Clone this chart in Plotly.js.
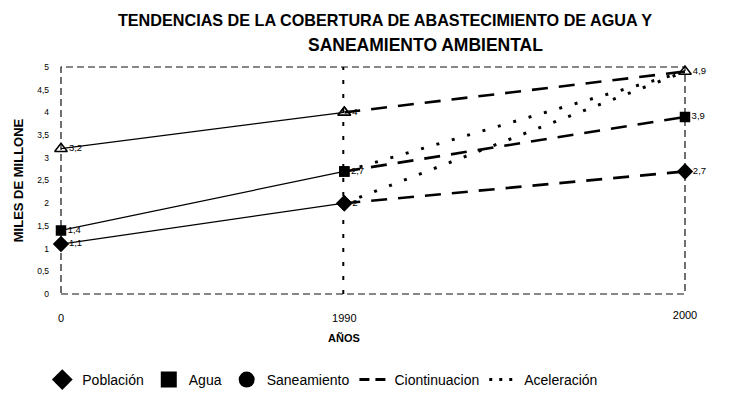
<!DOCTYPE html>
<html>
<head>
<meta charset="utf-8">
<script src="https://cdn.plot.ly/plotly-3.0.1.min.js"></script>
<style>html,body{margin:0;padding:0;background:#fff;}#chart{width:730px;height:407px;}</style>
</head>
<body>
<div id="chart"></div>
<script>
// ---- data ----
const years = [0, 1990, 2000];
const xTickLabels = ["0", "1990", "2000"];
const poblacion = [1.1, 2, 2.7];      // diamonds (bottom series)
const agua = [1.4, 2.7, 3.9];         // squares (middle series)
const saneamiento = [3.2, 4, 4.9];    // open triangles (top series)
const aceleracionAgua = [2.7, 4.9];        // 1990 -> 2000
const aceleracionPoblacion = [2, 4.9];     // 1990 -> 2000
const legendNames = ["Población", "Agua", "Saneamiento", "Ciontinuacion", "Aceleración"];
const titleLine1 = "TENDENCIAS DE LA COBERTURA DE ABASTECIMIENTO DE AGUA Y";
const titleLine2 = "SANEAMIENTO AMBIENTAL";
const yTitle = "MILES DE MILLONE";
const xTitle = "AÑOS";

const fmt = v => String(v).replace('.', ',');
const FONT = "Liberation Sans, Arial, sans-serif";

const series = [
  {y: poblacion, symbol: "diamond", size: 11},
  {y: agua, symbol: "square", size: 9},
  {y: saneamiento, symbol: "triangle-up-open", size: 11}
];

const traces = [];
// historical segment (0 -> 1990), solid
series.forEach(s => {
  traces.push({
    x: years.slice(0, 2), y: s.y.slice(0, 2), xaxis: "x", yaxis: "y",
    mode: "lines+markers+text", showlegend: false, cliponaxis: false,
    line: {color: "#000", width: 1.2},
    marker: {symbol: s.symbol, size: s.size, color: "#000", line: {color: "#000", width: 1.5}},
    text: s.y.slice(0, 2).map(fmt), textposition: "middle right",
    textfont: {family: FONT, size: 9.5, color: "#000"}
  });
});
// continuation segment (1990 -> 2000), dashed
series.forEach(s => {
  traces.push({
    x: years.slice(1), y: s.y.slice(1), xaxis: "x2", yaxis: "y",
    mode: "lines+markers+text", showlegend: false, cliponaxis: false,
    line: {color: "#000", width: 2.6, dash: "16px,11px"},
    marker: {symbol: s.symbol, size: s.size, color: "#000", line: {color: "#000", width: 1.5}},
    text: ["", fmt(s.y[2])], textposition: "middle right",
    textfont: {family: FONT, size: 9.5, color: "#000"}
  });
});
// acceleration (dotted)
[aceleracionAgua, aceleracionPoblacion].forEach(a => {
  traces.push({
    x: years.slice(1), y: a, xaxis: "x2", yaxis: "y",
    mode: "lines", showlegend: false, cliponaxis: false,
    line: {color: "#000", width: 3, dash: "3px,13px"}
  });
});
// legend entries
const legSym = ["diamond", "square", "circle"];
legSym.forEach((sym, i) => {
  traces.push({x: [null], y: [null], xaxis: "x", yaxis: "y", name: legendNames[i],
    mode: "markers", marker: {symbol: sym, size: 16, color: "#000"}});
});
traces.push({x: [null], y: [null], xaxis: "x", yaxis: "y", name: legendNames[3],
  mode: "lines", line: {color: "#000", width: 3, dash: "10px,6px"}});
traces.push({x: [null], y: [null], xaxis: "x", yaxis: "y", name: legendNames[4],
  mode: "lines", line: {color: "#000", width: 3, dash: "3px,7px"}});

const split = 0.454;
const layout = {
  width: 730, height: 407,
  margin: {l: 61, r: 45, t: 67, b: 112},
  paper_bgcolor: "#fff", plot_bgcolor: "#fff",
  separators: ", ",
  font: {family: FONT, color: "#000"},
  title: {text: titleLine1, x: 385 / 730, xanchor: "center", xref: "container",
          y: 1 - 20 / 407, yref: "container", yanchor: "middle",
          font: {family: FONT, size: 16.2, weight: 700, color: "#000"}},
  xaxis: {domain: [0, split], range: [years[0], years[1]], tickvals: years.slice(0, 2), ticktext: xTickLabels.slice(0, 2),
          showgrid: false, zeroline: false, showline: false, ticks: "", ticklabelstandoff: 16,
          tickfont: {family: FONT, size: 11, color: "#000"}, anchor: "y", fixedrange: true},
  xaxis2: {domain: [split, 1], range: [years[1], years[2]], tickvals: [years[2]], ticktext: [xTickLabels[2]],
          showgrid: false, zeroline: false, showline: false, ticks: "", ticklabelstandoff: 13,
          tickfont: {family: FONT, size: 11, color: "#000"}, anchor: "y", fixedrange: true},
  yaxis: {range: [0, 5], dtick: 0.5, showgrid: false, zeroline: false, showline: false, ticks: "",
          ticklabelstandoff: 11, tickfont: {family: FONT, size: 8.5, color: "#000"},
          title: {text: yTitle, standoff: 10, font: {family: FONT, size: 13, weight: 700, color: "#000"}}},
  shapes: [
    {type: "rect", xref: "paper", yref: "paper", x0: 0, x1: 1, y0: 0, y1: 1,
     line: {color: "#111", width: 1.2, dash: "7px,4px"}, layer: "below"},
    {type: "line", xref: "x", yref: "paper", x0: years[1], x1: years[1], y0: 0, y1: 1,
     line: {color: "#000", width: 4, dash: "4px,10px"}, layer: "below"}
  ],
  annotations: [
    {text: titleLine2, xref: "paper", yref: "paper", x: (425 - 61) / 624, y: 1 + (67 - 45) / 228,
     xanchor: "center", yanchor: "middle", showarrow: false,
     font: {family: FONT, size: 17.5, weight: 700, color: "#000"}},
    {text: xTitle, xref: "x", yref: "paper", x: years[1], y: -(339 - 295) / 228,
     xanchor: "center", yanchor: "middle", showarrow: false,
     font: {family: FONT, size: 11, weight: 700, color: "#000"}}
  ],
  showlegend: true,
  legend: {orientation: "h", x: -0.03, xanchor: "left", y: -(380 - 295) / 228, yanchor: "middle",
           font: {family: FONT, size: 14, color: "#000"}, bgcolor: "rgba(0,0,0,0)", itemsizing: "trace"}
};

Plotly.newPlot("chart", traces, layout, {displayModeBar: false, staticPlot: true});
</script>
</body>
</html>
